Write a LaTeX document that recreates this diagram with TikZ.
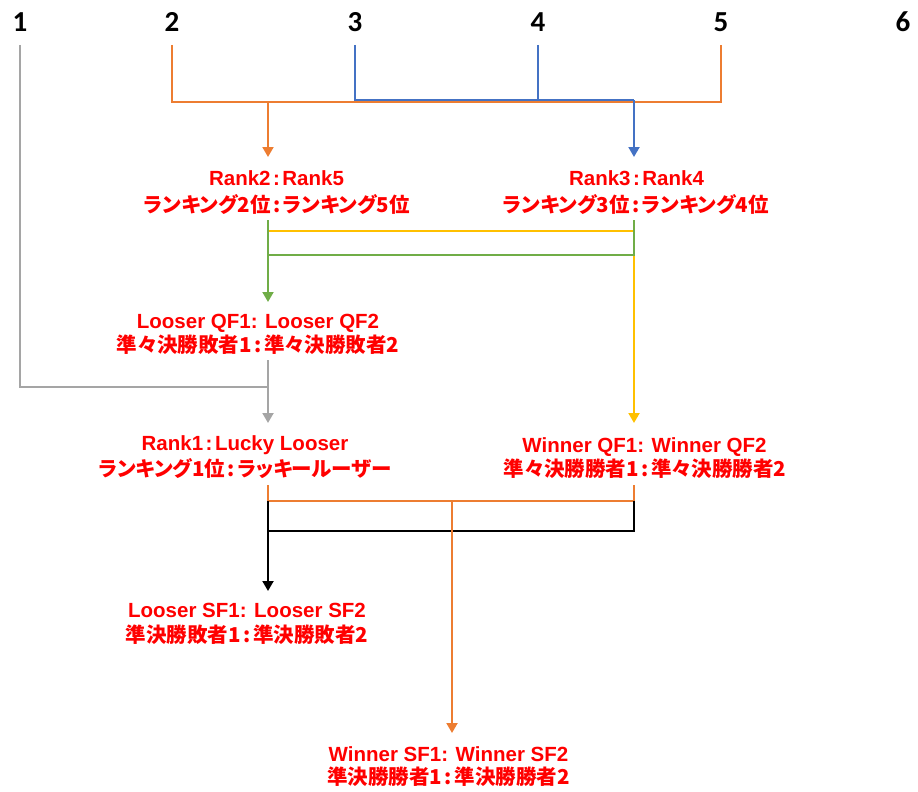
\documentclass[tikz,border=0pt]{standalone}
\usepackage{fontspec}
\setmainfont{Liberation Sans}
\newfontfamily\jp{Noto Sans CJK JP}[RawFeature=+palt]
\newfontfamily\numfont{Carlito}
\usetikzlibrary{arrows.meta}
\definecolor{cOrange}{HTML}{ED7D31}
\definecolor{cBlue}{HTML}{4472C4}
\definecolor{cGray}{HTML}{A5A5A5}
\definecolor{cYellow}{HTML}{FFC000}
\definecolor{cGreen}{HTML}{70AD47}
\newcommand{\wcol}{\hspace{2.5pt}:\hspace{2.5pt}}
\tikzset{
  ln/.style={line width=2pt},
  arr/.style={-{Triangle[width=11pt,length=10pt]}},
  lbl/.style={text=red, font=\fontsize{20.5}{24}\selectfont\bfseries, inner sep=0pt, anchor=base},
  jpl/.style={text=red, font=\fontsize{20.5}{24}\selectfont\jp\bfseries, inner sep=0pt, anchor=base},
  num/.style={font=\fontsize{29}{30}\selectfont\numfont\bfseries, inner sep=0pt, anchor=base}
}
\begin{document}
\begin{tikzpicture}[x=1pt,y=-1pt]
\useasboundingbox (0,0) rectangle (918,792);
% numbers
\node[num] (n1) at (20,32) {1};
\node[num] (n2) at (172,32) {2};
\node[num] (n3) at (355,32) {3};
\node[num] (n4) at (538,32) {4};
\node[num] (n5) at (721,32) {5};
\node[num] (n6) at (903,32) {6};
% labels
\node[lbl] (t1a) at (276.5,185) {Rank2\wcol Rank5};
\node[jpl] (t1b) at (277,212) {ランキング2位\wcol ランキング5位};
\node[lbl] (t2a) at (636.5,185) {Rank3\wcol Rank4};
\node[jpl] (t2b) at (636,212) {ランキング3位\wcol ランキング4位};
\node[lbl] (t3a) at (258,328) {Looser QF1: Looser QF2};
\node[jpl] (t3b) at (258,352) {準々決勝敗者1\wcol 準々決勝敗者2};
\node[lbl] (t4a) at (245,450) {Rank1\wcol Lucky Looser};
\node[jpl] (t4b) at (245,476) {ランキング1位\wcol ラッキールーザー};
\node[lbl] (t5a) at (644.5,452) {Winner QF1: Winner QF2};
\node[jpl] (t5b) at (645,476) {準々決勝勝者1\wcol 準々決勝勝者2};
\node[lbl] (t6a) at (247,617) {Looser SF1: Looser SF2};
\node[jpl] (t6b) at (247,642) {準決勝敗者1\wcol 準決勝敗者2};
\node[lbl] (t7a) at (448.5,761) {Winner SF1: Winner SF2};
\node[jpl] (t7b) at (448.5,784) {準決勝勝者1\wcol 準決勝勝者2};
% coordinates
\coordinate (a1) at (20,45);
\coordinate (a2) at (172,45);
\coordinate (a3) at (355,45);
\coordinate (a4) at (538,45);
\coordinate (a5) at (721,45);
\coordinate (oL) at (268,102);
\coordinate (oR) at (721,102);
\coordinate (bJ) at (538,100);
\coordinate (bR) at (634,100);
\coordinate (tip1) at (268,157);
\coordinate (tip2) at (634,157);
\coordinate (gTop) at (268,220);
\coordinate (gRTop) at (634,220);
\coordinate (yL) at (268,231);
\coordinate (gL) at (268,255);
\coordinate (tip3) at (268,302);
\coordinate (gyTop) at (268,360);
\coordinate (gyJ) at (268,387);
\coordinate (tip4) at (268,423);
\coordinate (tip5) at (634,423);
\coordinate (oBL) at (268,485);
\coordinate (oBR) at (634,485);
\coordinate (oBJ) at (268,501);
\coordinate (oBM) at (452,501);
\coordinate (kL) at (268,531);
\coordinate (tip6) at (268,591);
\coordinate (tip7) at (452,733);
% gray
\draw[ln,cGray] (a1) |- (gyJ);
\draw[ln,cGray,arr] (gyTop) -- (tip4);
% orange top
\draw[ln,cOrange] (a2) |- (oR) -- (a5);
\draw[ln,cOrange,arr] (oL) -- (tip1);
% blue
\draw[ln,cBlue] (a3) |- (bR);
\draw[ln,cBlue] (a4) -- (bJ);
\draw[ln,cBlue,arr] (bR) -- (tip2);
% yellow
\draw[ln,cYellow,arr] (yL) -| (tip5);
% green
\draw[ln,cGreen,arr] (gTop) -- (tip3);
\draw[ln,cGreen] (gL) -| (gRTop);
% orange bottom / black
\draw[ln,cOrange] (oBL) |- (oBR |- oBJ) -- (oBR);
\draw[ln,black,arr] (oBJ) -- (tip6);
\draw[ln,black] (kL) -| (oBR |- oBJ);
\draw[ln,cOrange,arr] (oBM) -- (tip7);
\end{tikzpicture}
\end{document}
